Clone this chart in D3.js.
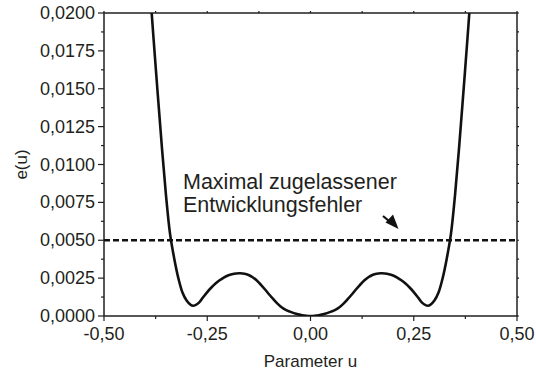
<!DOCTYPE html>
<html><head><meta charset="utf-8">
<script src="https://cdn.jsdelivr.net/npm/d3@7"></script>
<style>body{margin:0;background:#fff}svg{display:block}text{font-family:"Liberation Sans",Arial,sans-serif;fill:#231f20}</style>
</head><body>
<script>
const uValues = [-0.388,-0.38,-0.37,-0.36,-0.35,-0.34,-0.33,-0.32,-0.31,-0.30,-0.29,-0.284,-0.28,-0.27,-0.26,-0.25,-0.24,-0.23,-0.22,-0.21,-0.20,-0.19,-0.18,-0.17,-0.16,-0.15,-0.14,-0.13,-0.12,-0.11,-0.10,-0.09,-0.08,-0.07,-0.06,-0.05,-0.04,-0.03,-0.02,-0.01,0,
  0.01,0.02,0.03,0.04,0.05,0.06,0.07,0.08,0.09,0.10,0.11,0.12,0.13,0.14,0.15,0.16,0.17,0.18,0.19,0.20,0.21,0.22,0.23,0.24,0.25,0.26,0.27,0.28,0.284,0.29,0.30,0.31,0.32,0.33,0.34,0.35,0.36,0.37,0.38,0.388];
const eValues = [0.0213,0.0183,0.0147,0.0112,0.0080,0.0054,0.0038,0.0025,0.00155,0.00102,0.00073,0.00068,0.0007,0.00088,0.00124,0.00158,0.00188,0.00214,0.00236,0.00254,0.00267,0.00276,0.00281,0.00282,0.00279,0.00271,0.00256,0.00234,0.00206,0.00175,0.00142,0.00111,0.00082,0.00058,0.00041,0.00029,0.00019,0.00011,0.000048,0.000012,0,
  0.000012,0.000048,0.00011,0.00019,0.00029,0.00041,0.00058,0.00082,0.00111,0.00142,0.00175,0.00206,0.00234,0.00256,0.00271,0.00279,0.00282,0.00281,0.00276,0.00267,0.00254,0.00236,0.00214,0.00188,0.00158,0.00124,0.00088,0.0007,0.00068,0.00073,0.00102,0.00155,0.0025,0.0038,0.0054,0.0080,0.0112,0.0147,0.0183,0.0213];
const xTicks = [-0.5,-0.25,0,0.25,0.5];
const yTicks = [0,0.0025,0.005,0.0075,0.01,0.0125,0.015,0.0175,0.02];
const limit = 0.005;
const annotation = ["Maximal zugelassener","Entwicklungsfehler"];
const xTitle = "Parameter u", yTitle = "e(u)";

const W=536,H=376, L=104, R=517, T=13, B=316;
const svg=d3.select("body").append("svg").attr("width",W).attr("height",H);
const x=d3.scaleLinear().domain([-0.5,0.5]).range([L,R]);
const y=d3.scaleLinear().domain([0,0.02]).range([B,T]);
const fmtX=d=>d3.format(".2f")(d).replace(".",",").replace("\u2212","-");
const fmtY=d=>d3.format(".4f")(d).replace(".",",");

svg.append("clipPath").attr("id","c").append("rect").attr("x",L).attr("y",T).attr("width",R-L).attr("height",B-T);

// minor ticks
const xMinor=d3.range(-0.5,0.5001,0.125);
const yMinor=d3.range(0,0.02001,0.00125);
const g=svg.append("g").attr("stroke","#231f20").attr("stroke-width",1.2);
xMinor.forEach(v=>{const major=xTicks.some(t=>Math.abs(t-v)<1e-9);
  g.append("line").attr("x1",x(v)).attr("x2",x(v)).attr("y1",B).attr("y2",B+(major?5:3));
  g.append("line").attr("x1",x(v)).attr("x2",x(v)).attr("y1",T).attr("y2",T-2);});
yMinor.forEach(v=>{const major=yTicks.some(t=>Math.abs(t-v)<1e-9);
  g.append("line").attr("y1",y(v)).attr("y2",y(v)).attr("x1",L).attr("x2",L-(major?6:3));
  g.append("line").attr("y1",y(v)).attr("y2",y(v)).attr("x1",R).attr("x2",R+2);});

// frame
svg.append("rect").attr("x",L).attr("y",T).attr("width",R-L).attr("height",B-T)
  .attr("fill","none").attr("stroke","#231f20").attr("stroke-width",1.5);

// labels
svg.selectAll(".xl").data(xTicks).join("text").attr("x",d=>x(d)).attr("y",340)
  .attr("text-anchor","middle").attr("font-size",18).text(fmtX);
svg.selectAll(".yl").data(yTicks).join("text").attr("x",95).attr("y",d=>y(d)+6)
  .attr("text-anchor","end").attr("font-size",18).text(fmtY);
svg.append("text").attr("x",x(0)).attr("y",367).attr("text-anchor","middle").attr("font-size",17).text(xTitle);
svg.append("text").attr("transform",`translate(27,${(T+B)/2}) rotate(-90)`).attr("text-anchor","middle").attr("font-size",17).text(yTitle);

// dashed limit
svg.append("line").attr("x1",L).attr("x2",R).attr("y1",y(limit)).attr("y2",y(limit))
  .attr("stroke","#111").attr("stroke-width",2.4).attr("stroke-dasharray","6,3");

// curve
const pts=uValues.map((u,i)=>[u,eValues[i]]);
svg.append("path").attr("clip-path","url(#c)").attr("d",d3.line().x(d=>x(d[0])).y(d=>y(d[1])).curve(d3.curveCatmullRom.alpha(0.5))(pts))
  .attr("fill","none").attr("stroke","#111").attr("stroke-width",2.6).attr("stroke-linejoin","round");

// annotation
annotation.forEach((s,i)=>svg.append("text").attr("x",183).attr("y",189+i*22.5).attr("font-size",21.5).text(s));
svg.append("line").attr("x1",383).attr("y1",216).attr("x2",392).attr("y2",223.5).attr("stroke","#111").attr("stroke-width",2.2);
svg.append("path").attr("d","M398.5,229 L385.5,222.5 L393,214.5 Z").attr("fill","#111");
</script>
</body></html>
